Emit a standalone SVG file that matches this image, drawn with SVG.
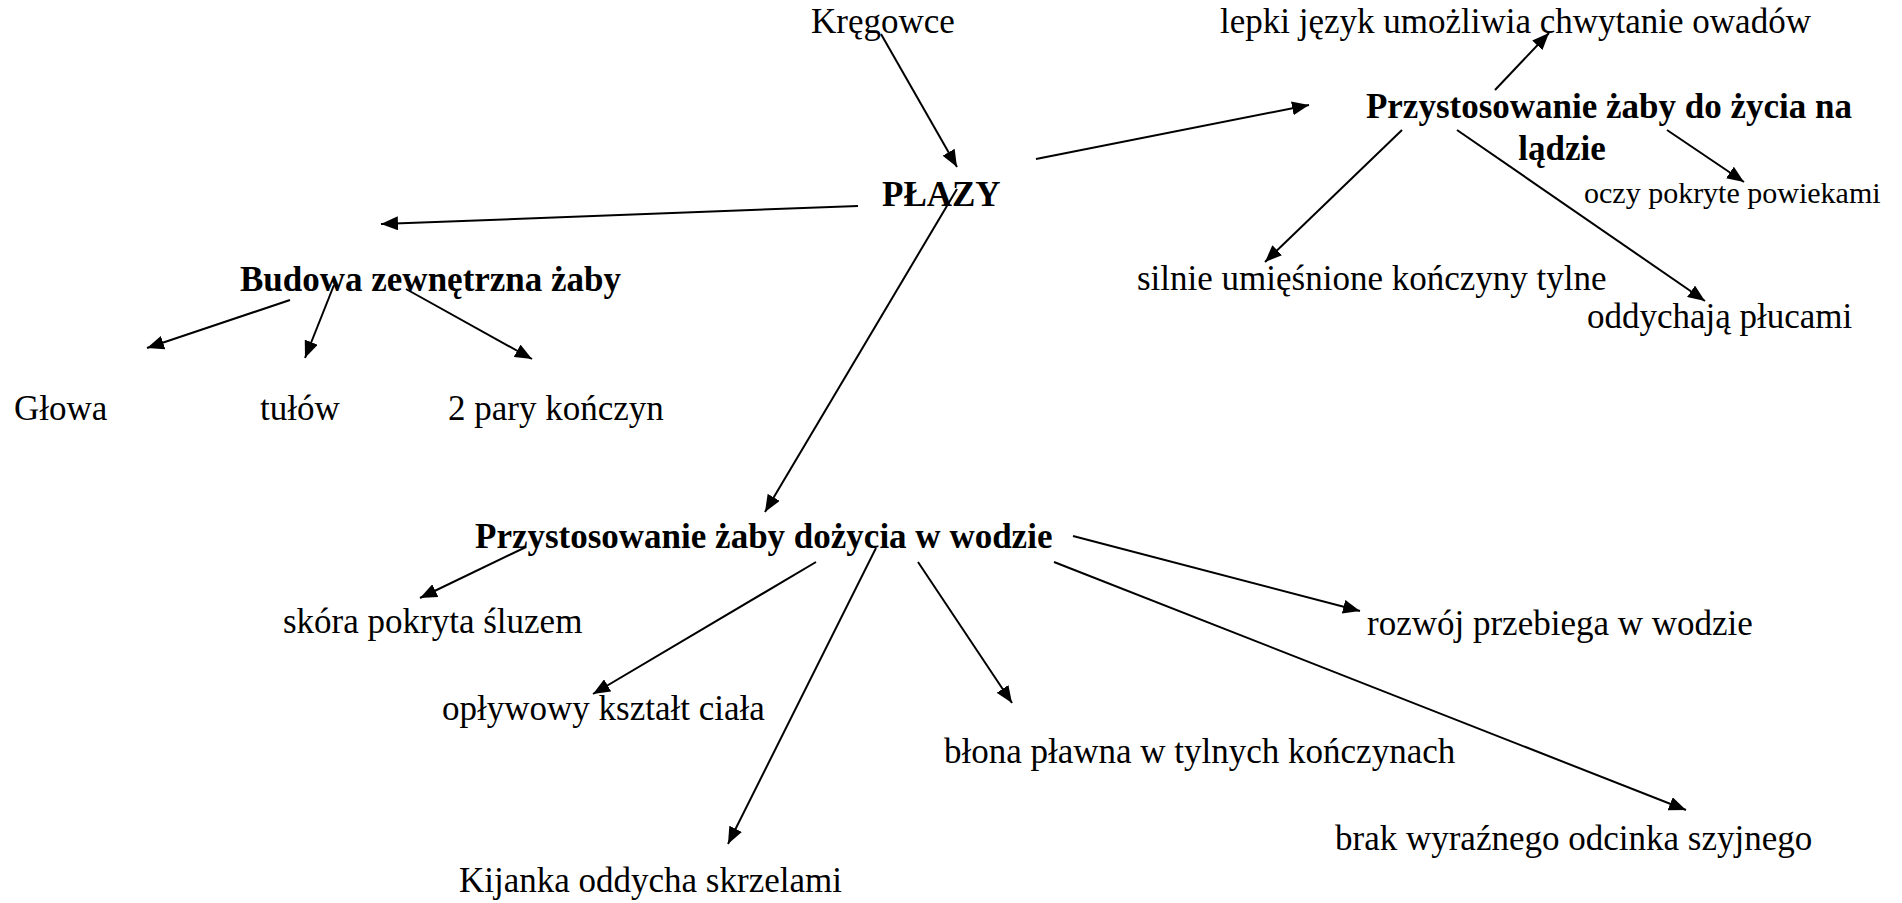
<svg xmlns="http://www.w3.org/2000/svg" width="1902" height="903" viewBox="0 0 1902 903">
<style>
text{font-family:"Liberation Serif","Times New Roman",serif;font-size:35px;fill:#000}
.b{font-weight:bold}
.s{font-size:30px}
.c line{stroke:#000;stroke-width:2;marker-end:url(#ah)}
</style>
<defs>
<marker id="ah" markerUnits="userSpaceOnUse" markerWidth="18" markerHeight="14" refX="17" refY="7" orient="auto">
<path d="M0,0 L17,7 L0,14 z" fill="#000"/>
</marker>
</defs>
<rect width="1902" height="903" fill="#fff"/>
<g id="n-kregowce"><text x="811" y="33">Kręgowce</text></g>
<g id="n-plazy"><text class="b" x="882" y="206">PŁAZY</text></g>
<g id="n-budowa"><text class="b" x="240" y="291">Budowa zewnętrzna żaby</text></g>
<g id="n-glowa"><text x="14" y="420">Głowa</text></g>
<g id="n-tulow"><text x="260" y="420">tułów</text></g>
<g id="n-konczyny"><text x="448" y="420">2 pary kończyn</text></g>
<g id="n-lepki"><text x="1220" y="33">lepki język umożliwia chwytanie owadów</text></g>
<g id="n-lad"><text class="b" x="1609" y="118" text-anchor="middle">Przystosowanie żaby do życia na</text><text class="b" x="1562" y="160" text-anchor="middle">lądzie</text></g>
<g id="n-oczy"><text class="s" x="1584" y="203">oczy pokryte powiekami</text></g>
<g id="n-silnie"><text x="1137" y="290">silnie umięśnione kończyny tylne</text></g>
<g id="n-oddychaja"><text x="1587" y="328">oddychają płucami</text></g>
<g id="n-woda"><text class="b" x="475" y="548">Przystosowanie żaby dożycia w wodzie</text></g>
<g id="n-skora"><text x="283" y="633">skóra pokryta śluzem</text></g>
<g id="n-oplywowy"><text x="442" y="720">opływowy kształt ciała</text></g>
<g id="n-kijanka"><text x="459" y="892">Kijanka oddycha skrzelami</text></g>
<g id="n-blona"><text x="944" y="763">błona pławna w tylnych kończynach</text></g>
<g id="n-rozwoj"><text x="1367" y="635">rozwój przebiega w wodzie</text></g>
<g id="n-brak"><text x="1335" y="850">brak wyraźnego odcinka szyjnego</text></g>
<g id="connectors" class="c">
<line x1="881" y1="34" x2="957" y2="167"/>
<line x1="858" y1="206" x2="381" y2="224"/>
<line x1="1036" y1="159" x2="1309" y2="105"/>
<line x1="957" y1="189" x2="765" y2="512"/>
<line x1="290" y1="300" x2="147" y2="348"/>
<line x1="334" y1="285" x2="305" y2="358"/>
<line x1="406" y1="289" x2="532" y2="359"/>
<line x1="1495" y1="90" x2="1549" y2="33"/>
<line x1="1667" y1="130" x2="1744" y2="182"/>
<line x1="1402" y1="130" x2="1265" y2="262"/>
<line x1="1457" y1="130" x2="1705" y2="301"/>
<line x1="526" y1="547" x2="420" y2="598"/>
<line x1="816" y1="562" x2="593" y2="694"/>
<line x1="876" y1="548" x2="728" y2="844"/>
<line x1="918" y1="562" x2="1012" y2="703"/>
<line x1="1073" y1="536" x2="1360" y2="611"/>
<line x1="1054" y1="562" x2="1686" y2="810"/>
</g>
</svg>
